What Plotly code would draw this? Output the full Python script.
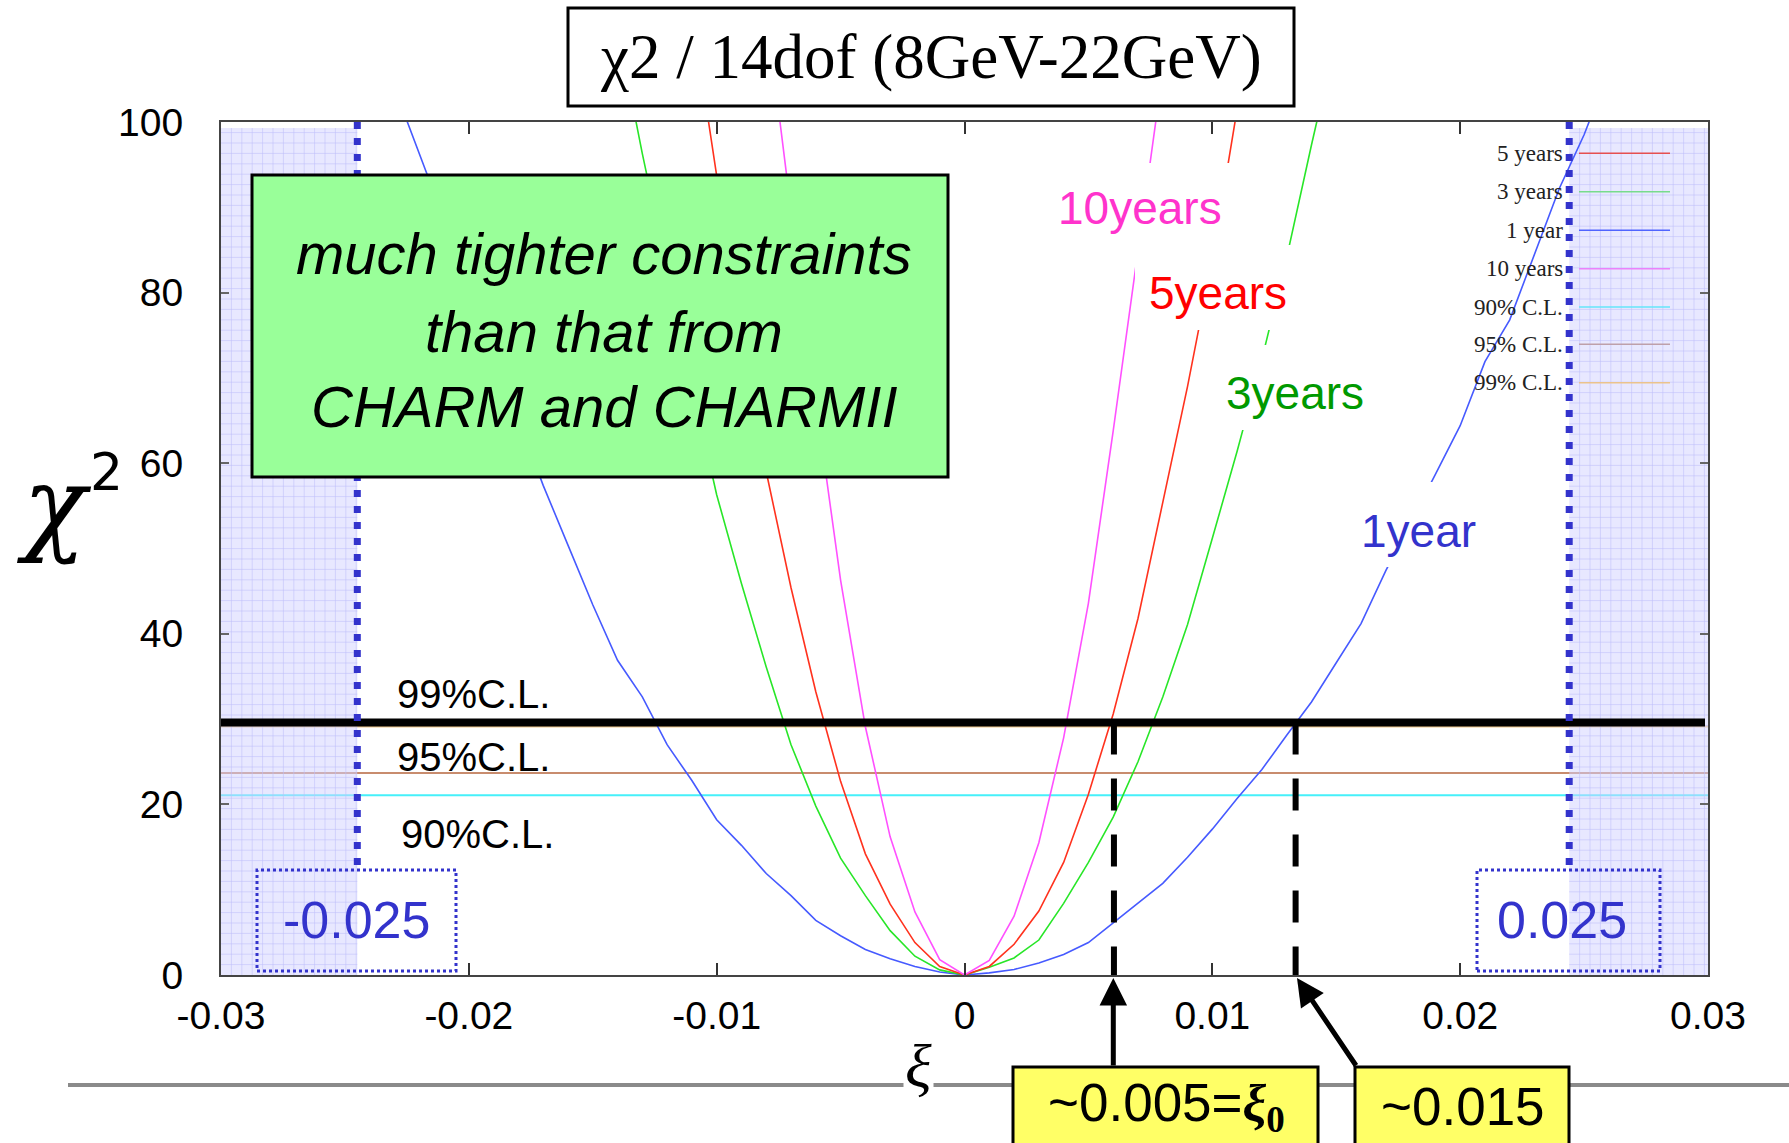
import numpy as np
import plotly.graph_objects as go

# ---------------- data ----------------
XI_1Y = [-0.023, -0.022, -0.021, -0.020, -0.019, -0.018, -0.017, -0.016, -0.015, -0.014,
         -0.013, -0.012, -0.011, -0.010, -0.009, -0.008, -0.007, -0.006, -0.005, -0.004,
         -0.003, -0.002, -0.001, 0.0, 0.001, 0.002, 0.003, 0.004, 0.005, 0.006, 0.007,
         0.008, 0.009, 0.010, 0.011, 0.012, 0.013, 0.014, 0.015, 0.016, 0.017, 0.018,
         0.019, 0.020, 0.021, 0.022, 0.023, 0.024, 0.025, 0.026]
CHI_1Y = [104.0, 96.4, 88.6, 80.8, 73.0, 65.2, 57.4, 50.4, 43.4, 36.9,
          32.6, 27.0, 22.8, 18.2, 15.2, 11.9, 9.3, 6.4, 4.6, 3.0,
          1.9, 1.0, 0.35, 0.0, 0.25, 0.65, 1.4, 2.4, 3.8, 6.1, 8.4,
          10.75, 13.8, 17.1, 20.7, 24.1, 28.1, 32.0, 36.6, 41.2, 47.4, 53.0,
          58.7, 64.4, 71.9, 76.8, 84.5, 92.2, 98.5, 106.0]

XI_3Y = [-0.014, -0.013, -0.012, -0.011, -0.010, -0.009, -0.008, -0.007, -0.006, -0.005,
         -0.004, -0.003, -0.002, -0.001, 0.0, 0.001, 0.002, 0.003, 0.004, 0.005, 0.006,
         0.007, 0.008, 0.009, 0.010, 0.011, 0.012, 0.013, 0.014, 0.015]
CHI_3Y = [111.0, 96.3, 82.6, 69.2, 56.3, 45.9, 36.1, 27.0, 19.8, 13.7,
          9.3, 5.2, 2.2, 0.6, 0.0, 0.9, 2.0, 4.1, 8.4, 13.2, 18.5,
          25.0, 32.6, 41.1, 51.2, 61.4, 72.2, 84.1, 97.3, 110.0]

XI_5Y = [-0.011, -0.010, -0.009, -0.008, -0.007, -0.006, -0.005, -0.004, -0.003, -0.002,
         -0.001, 0.0, 0.001, 0.002, 0.003, 0.004, 0.005, 0.006, 0.007, 0.008, 0.009,
         0.010, 0.011]
CHI_5Y = [113.0, 93.7, 76.3, 59.0, 45.4, 33.2, 22.7, 14.2, 8.3, 3.8,
          1.0, 0.0, 1.0, 3.6, 7.5, 13.2, 21.2, 30.6, 41.8, 55.4, 69.0,
          83.9, 101.5]

XI_10Y = [-0.008, -0.007, -0.006, -0.005, -0.004, -0.003, -0.002, -0.001, 0.0,
          0.001, 0.002, 0.003, 0.004, 0.005, 0.006, 0.007, 0.008]
CHI_10Y = [113.0, 89.6, 67.3, 46.3, 29.1, 16.2, 7.4, 1.8, 0.0,
           1.7, 6.9, 15.5, 27.8, 43.6, 63.8, 84.8, 106.0]

CL_NAMES = ["90% C.L.", "95% C.L.", "99% C.L."]
CL_LEVELS = [21.06, 23.68, 29.14]
CL_TEXT = ["90%C.L.", "95%C.L.", "99%C.L."]

X_TICKS = [-0.03, -0.02, -0.01, 0.0, 0.01, 0.02, 0.03]
X_TICKTEXT = ["-0.03", "-0.02", "-0.01", "0", "0.01", "0.02", "0.03"]
Y_TICKS = [0, 20, 40, 60, 80, 100]

LIMITS = [-0.0245, 0.0244]          # blue dotted limit lines
LIMIT_TEXT = ["-0.025", "0.025"]
CUT_XI = [0.00603, 0.01336]          # dashed crossing lines
CUT_LEVEL = 29.6                     # thick black 99% bar

# ---------------- geometry helpers ----------------
W, H = 1789, 1143
L, R, T, B = 221, 1708, 122, 975
XMIN, XMAX, YMIN, YMAX = -0.03, 0.03, 0.0, 100.0


def dx(px):
    return XMIN + (px - L) / (R - L) * (XMAX - XMIN)


def dy(py):
    return YMIN + (B - py) / (B - T) * (YMAX - YMIN)


def pxp(px):
    return (px - L) / (R - L)


def pyp(py):
    return (B - py) / (B - T)


NARROW = "Liberation Sans, Arial, sans-serif"
SERIF = "Liberation Serif, Times New Roman, serif"
BLUE_TXT = "rgb(51,51,204)"

fig = go.Figure()

# C.L. lines (under shading)
cl_colors = ["rgb(70,240,250)", "rgb(200,140,110)", "rgb(240,200,140)"]
for name, lvl, col in zip(CL_NAMES, CL_LEVELS, cl_colors):
    fig.add_trace(go.Scatter(x=[XMIN, XMAX], y=[lvl, lvl], mode="lines",
                             line=dict(color=col, width=2), name=name,
                             showlegend=False, hoverinfo="skip"))

# shaded excluded regions + grid
shade_top = dy(128)
for xa, xb in [(XMIN, LIMITS[0]), (LIMITS[1], XMAX)]:
    fig.add_trace(go.Scatter(x=[xa, xb, xb, xa, xa], y=[0, 0, shade_top, shade_top, 0],
                             mode="lines", fill="toself", fillcolor="rgba(210,210,255,0.5)",
                             line=dict(width=0), showlegend=False, hoverinfo="skip"))
    gx, gy = [], []
    step_x = 10.4 / (R - L) * (XMAX - XMIN)
    step_y = 10.4 / (B - T) * (YMAX - YMIN)
    for v in np.arange(xa + step_x, xb, step_x):
        gx += [v, v, None]
        gy += [0, shade_top, None]
    for v in np.arange(step_y, shade_top, step_y):
        gx += [xa, xb, None]
        gy += [v, v, None]
    fig.add_trace(go.Scatter(x=gx, y=gy, mode="lines",
                             line=dict(color="rgba(190,190,250,0.55)", width=1),
                             showlegend=False, hoverinfo="skip"))

# curves
curves = [
    ("1 year", XI_1Y, CHI_1Y, "rgb(70,90,255)"),
    ("3 years", XI_3Y, CHI_3Y, "rgb(40,230,40)"),
    ("5 years", XI_5Y, CHI_5Y, "rgb(255,50,30)"),
    ("10 years", XI_10Y, CHI_10Y, "rgb(255,80,255)"),
]
for name, xs, ys, col in curves:
    fig.add_trace(go.Scatter(x=xs, y=ys, mode="lines", name=name,
                             line=dict(color=col, width=1.6), showlegend=False))

# thick black 99% bar
fig.add_trace(go.Scatter(x=[XMIN, dx(1705)], y=[CUT_LEVEL, CUT_LEVEL], mode="lines",
                         line=dict(color="black", width=8), showlegend=False, hoverinfo="skip"))
# dashed verticals
for xv in CUT_XI:
    fig.add_trace(go.Scatter(x=[xv, xv], y=[CUT_LEVEL, 0], mode="lines",
                             line=dict(color="black", width=6, dash="32px,24px"),
                             showlegend=False, hoverinfo="skip"))
# blue dotted limit lines
for xv in LIMITS:
    fig.add_trace(go.Scatter(x=[xv, xv], y=[100, dy(868)], mode="lines",
                             line=dict(color="rgb(51,51,204)", width=7, dash="7px,9px"),
                             showlegend=False, hoverinfo="skip"))

shapes = []
annotations = []


def ann(x, y, text, font, xref="paper", yref="paper", **kw):
    d = dict(xref=xref, yref=yref, x=x, y=y, text=text, showarrow=False,
             xanchor="center", yanchor="middle", font=font)
    d.update(kw)
    annotations.append(d)


# white backgrounds behind curve labels
for (x0, x1, y0, y1) in [(1055, 1250, 163, 245), (1135, 1300, 245, 330),
                         (1220, 1370, 345, 430), (1355, 1480, 482, 567)]:
    shapes.append(dict(type="rect", xref="x", yref="y", x0=dx(x0), x1=dx(x1),
                       y0=dy(y1), y1=dy(y0), fillcolor="white", line=dict(width=0),
                       layer="above"))

# green text box
shapes.append(dict(type="rect", xref="x", yref="y", x0=dx(252), x1=dx(948),
                   y0=dy(477), y1=dy(175), fillcolor="#99ff99",
                   line=dict(color="black", width=3), layer="above"))
# dotted limit boxes
for (x0, x1) in [(257, 456), (1477, 1660)]:
    shapes.append(dict(type="rect", xref="x", yref="y", x0=dx(x0), x1=dx(x1),
                       y0=dy(971), y1=dy(870), fillcolor="rgba(0,0,0,0)",
                       line=dict(color="rgb(51,51,204)", width=3, dash="dot"),
                       layer="above"))

# legend sample lines (gnuplot style key)
key_rows = [153.3, 191.7, 230.3, 268.7, 307.0, 344.3, 382.7]
key_names = ["5 years", "3 years", "1 year", "10 years", "90% C.L.", "95% C.L.", "99% C.L."]
key_cols = ["rgb(230,80,80)", "rgb(120,220,140)", "rgb(80,100,255)", "rgb(235,130,250)",
            "rgb(100,230,250)", "rgb(190,160,170)", "rgb(235,195,140)"]
for row, name, col in zip(key_rows, key_names, key_cols):
    shapes.append(dict(type="line", xref="x", yref="y", x0=dx(1579), x1=dx(1670),
                       y0=dy(row), y1=dy(row), line=dict(color=col, width=1.5),
                       layer="above"))
    ann(dx(1565), dy(row), name, dict(family=SERIF, size=23, color="#222"),
        xref="x", yref="y", xanchor="right")

# title box
shapes.append(dict(type="rect", xref="paper", yref="paper", x0=pxp(568), x1=pxp(1294),
                   y0=pyp(106), y1=pyp(8), fillcolor="white",
                   line=dict(color="black", width=3), layer="above"))
# grey rule under axis
shapes.append(dict(type="line", xref="paper", yref="paper", x0=pxp(68), x1=pxp(1789),
                   y0=pyp(1085), y1=pyp(1085), line=dict(color="#8a8a8a", width=4),
                   layer="above"))
# yellow boxes
for (x0, x1) in [(1013, 1318), (1355, 1569)]:
    shapes.append(dict(type="rect", xref="paper", yref="paper", x0=pxp(x0), x1=pxp(x1),
                       y0=pyp(1160), y1=pyp(1067), fillcolor="#ffff66",
                       line=dict(color="black", width=3), layer="above"))

# title text
ann(pxp(931), pyp(57), "χ2 / 14dof (8GeV-22GeV)", dict(family=SERIF, size=63, color="black"))
# green box text
for txt, yy in [("much tighter constraints", 253), ("than that from", 331),
                ("CHARM and CHARMII", 406)]:
    ann(dx(604), dy(yy), "<i>" + txt + "</i>", dict(family=NARROW, size=58, color="black"),
        xref="x", yref="y")
# curve labels
for txt, cx, cy, col in [("10years", 1140, 208, "rgb(255,51,204)"),
                         ("5years", 1218, 293, "rgb(255,0,0)"),
                         ("3years", 1295, 393, "rgb(0,153,0)"),
                         ("1year", 1418, 531, BLUE_TXT)]:
    ann(dx(cx), dy(cy), txt, dict(family=NARROW, size=46, color=col), xref="x", yref="y")
# C.L. labels
for txt, cx, cy in zip(CL_TEXT, [477, 473, 473], [834, 757, 694]):
    ann(dx(cx), dy(cy), txt, dict(family=NARROW, size=40, color="black"), xref="x", yref="y")
# limit texts
for txt, cx in zip(LIMIT_TEXT, [356, 1562]):
    ann(dx(cx), dy(920), txt, dict(family=NARROW, size=52, color=BLUE_TXT), xref="x", yref="y")
# axis titles
ann(pxp(54), pyp(505), "<i>χ</i>", dict(family="DejaVu Serif, serif", size=104, color="black"))
ann(pxp(106), pyp(472), "2", dict(family="DejaVu Sans, sans-serif", size=52, color="black"))
ann(pxp(918), pyp(1066), "<i>ξ</i>", dict(family=SERIF, size=62, color="black"),
    bgcolor="white")
# yellow box texts
ann(pxp(1166), pyp(1106),
    '~0.005=<span style="font-family:Liberation Serif"><b><i>ξ</i></b><sub><b>0</b></sub></span>',
    dict(family=NARROW, size=53, color="black"))
ann(pxp(1463), pyp(1106), "~0.015", dict(family=NARROW, size=53, color="black"))
# arrows
for tipx, tailx in [(1113.3, 1113.3), (1297, 1357)]:
    annotations.append(dict(xref="paper", yref="paper", x=pxp(tipx), y=pyp(978),
                            ax=tailx - tipx, ay=1067 - 978, text="", showarrow=True,
                            arrowhead=2, arrowsize=1.1, arrowwidth=5, arrowcolor="black",
                            standoff=0, startstandoff=0))

fig.update_layout(
    width=W, height=H, autosize=False,
    margin=dict(l=L, r=W - R, t=T, b=H - B),
    paper_bgcolor="white", plot_bgcolor="white",
    shapes=shapes, annotations=annotations, showlegend=False,
    xaxis=dict(range=[XMIN, XMAX], tickvals=X_TICKS, ticktext=X_TICKTEXT,
               ticks="inside", ticklen=12, tickwidth=1.5, tickcolor="#333",
               showline=True, linecolor="#444", linewidth=2, mirror="ticks",
               showgrid=False, zeroline=False, ticklabelstandoff=5,
               tickfont=dict(family=NARROW, size=39, color="black")),
    yaxis=dict(range=[YMIN, YMAX], tickvals=Y_TICKS,
               ticks="inside", ticklen=8, tickwidth=1.5, tickcolor="#666",
               showline=True, linecolor="#444", linewidth=2, mirror="ticks",
               showgrid=False, zeroline=False, ticklabelstandoff=28,
               tickfont=dict(family=NARROW, size=39, color="black")),
)

fig.write_html("out.html")
